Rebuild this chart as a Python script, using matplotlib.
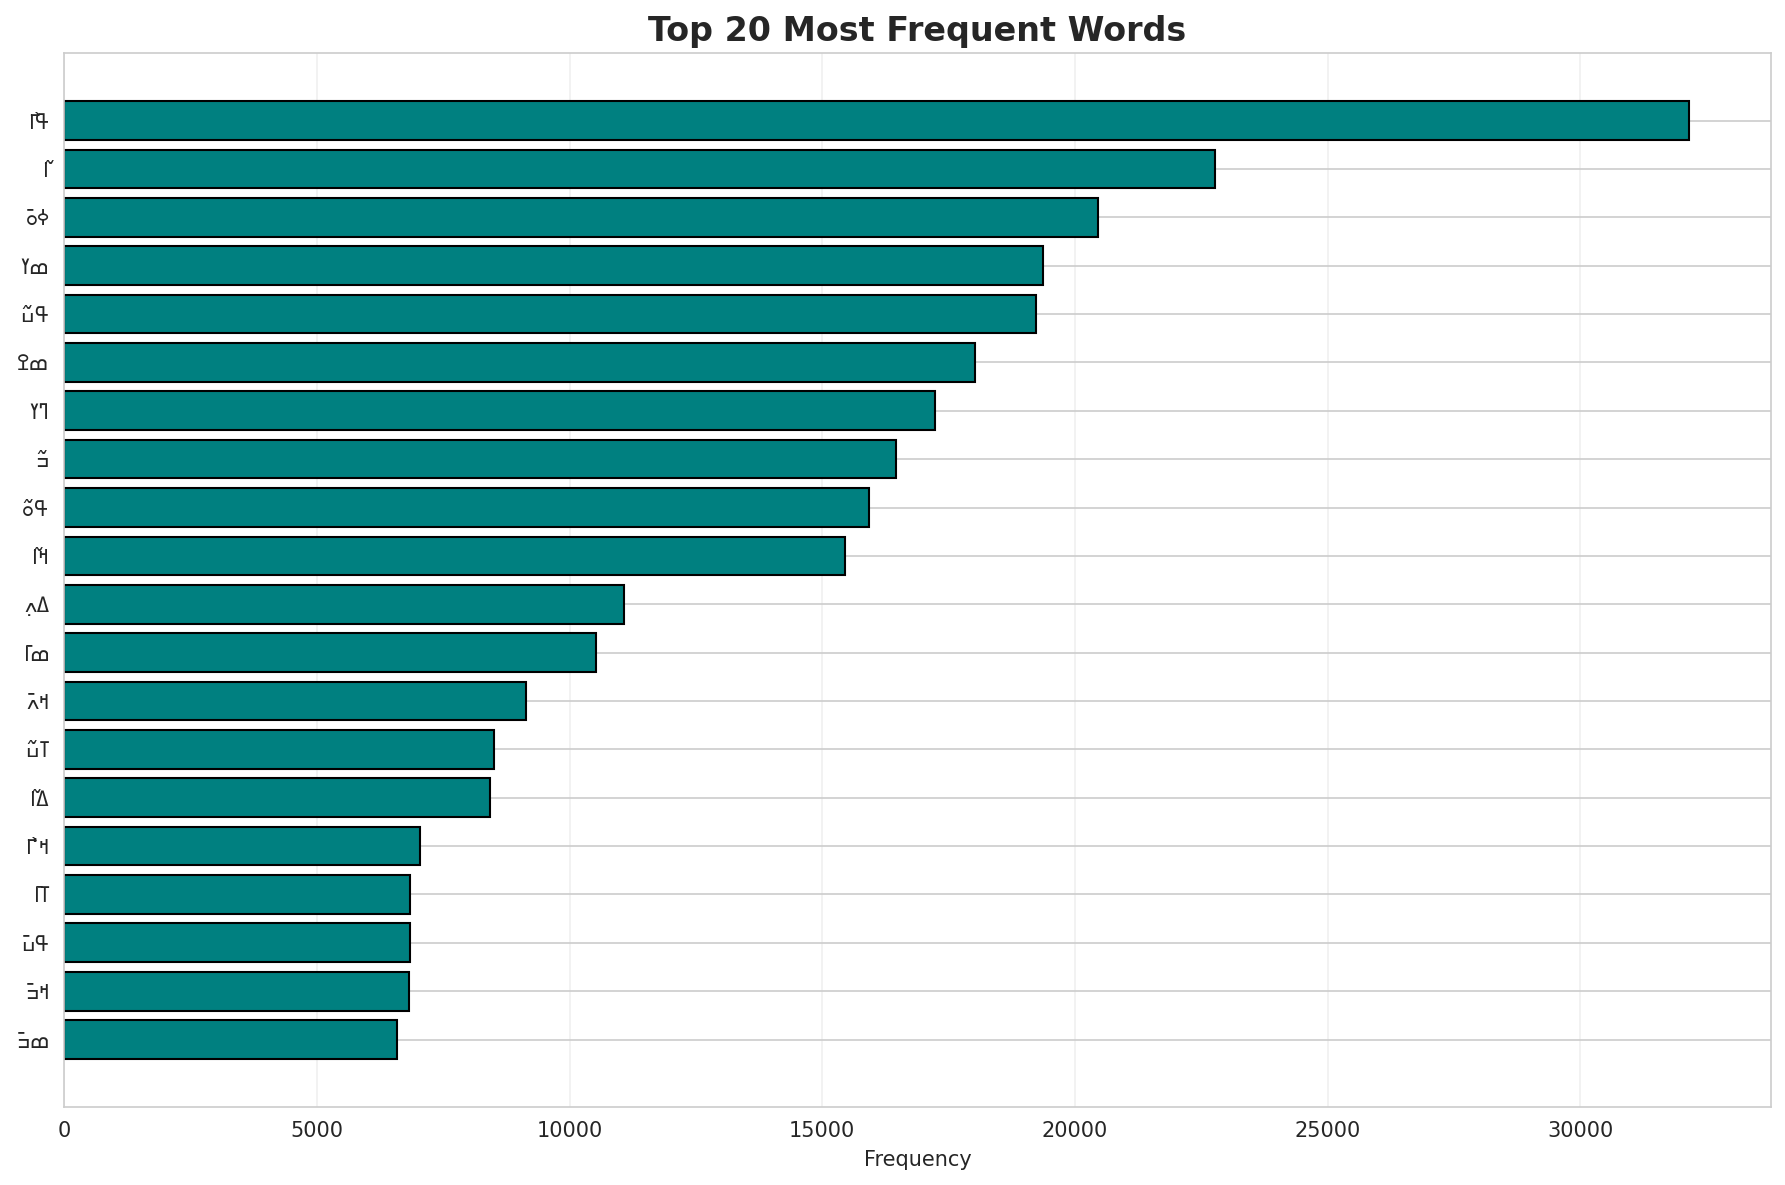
import matplotlib
matplotlib.use('Agg')
import matplotlib.pyplot as plt
import seaborn as sns

sns.set_style('whitegrid')

# N'Ko words (logical order) and their counts, most frequent first
words = ['ߟߊ߯', 'ߊ߬', 'ߦߋ߫', 'ߘߌ', 'ߟߎ߬', 'ߘߐ', 'ߣߌ', 'ߏ߬', 'ߟߋ߬', 'ߞߊ߬',
         'ߡߍ߲', 'ߘߊ߫', 'ߞߍ߫', 'ߠߎ߬', 'ߡߊ߬', 'ߞߵߊ߯', 'ߠߊ߫', 'ߟߎ߫', 'ߞߏ߫', 'ߘߏ߫']
counts = [32160, 22770, 20450, 19370, 19230, 18020, 17230, 16460, 15920, 15450,
          11080, 10520, 9140, 8510, 8420, 7030, 6850, 6850, 6820, 6580]

# right-to-left script: reverse the characters for display
labels = [w[::-1] for w in words]

fig, ax = plt.subplots(figsize=(11.9, 7.9), dpi=150)
ax.barh(labels[::-1], counts[::-1], color='teal', edgecolor='black')
ax.grid(axis='x', alpha=0.3)

ax.set_xlabel('Frequency')
ax.set_title('Top 20 Most Frequent Words', fontsize=16, fontweight='bold')

plt.subplots_adjust(left=0.036, right=0.992, top=0.955, bottom=0.066)
plt.savefig('out.png', dpi=150)
